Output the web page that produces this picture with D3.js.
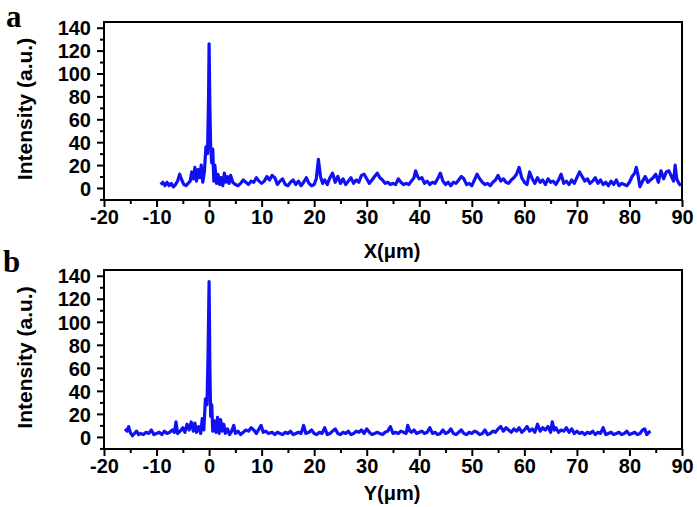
<!DOCTYPE html>
<html>
<head>
<meta charset="utf-8">
<script src="https://cdn.jsdelivr.net/npm/d3@7"></script>
<style>
  body { margin: 0; background: #fff; }
  svg { display: block; }
  .tick text { font-family: "Liberation Sans", Arial, sans-serif; font-weight: bold; font-size: 20px; fill: #000; }
  .lbl { font-family: "Liberation Sans", Arial, sans-serif; font-weight: bold; font-size: 20px; fill: #000; }
  .ylbl { font-family: "Liberation Sans", Arial, sans-serif; font-weight: bold; font-size: 21px; fill: #000; }
  .panel { font-family: "Liberation Serif", "Times New Roman", serif; font-weight: bold; font-size: 31px; fill: #000; }
</style>
</head>
<body>
<div id="chart"></div>
<script>
// profile along X (panel a)
var xA = [-9.2,-8.8,-8.4,-8.0,-7.6,-7.2,-6.8,-6.4,-6.0,-5.6,-5.2,-4.8,-4.4,-4.0,-3.6,-3.3,-3.0,-2.7,-2.4,-2.1,-1.8,-1.5,-1.2,-0.9,-0.6,-0.3,-0.1,0.0,0.15,0.3,0.5,0.7,0.9,1.1,1.4,1.7,2.0,2.3,2.6,2.9,3.2,3.5,3.8,4.1,4.5,5.0,5.5,6.0,6.5,7.0,7.5,8.0,8.5,9.0,9.5,10.0,10.5,11.0,11.5,12.0,12.5,13.0,13.5,14.0,14.5,15.0,15.5,16.0,16.5,17.0,17.5,18.0,18.5,19.0,19.5,20.0,20.4,20.8,21.2,21.6,22.0,22.5,23.0,23.5,24.0,24.5,25.0,25.5,26.0,26.5,27.0,27.5,28.0,28.5,29.0,29.5,30.0,30.5,31.0,31.5,32.0,32.5,33.0,33.5,34.0,34.5,35.0,35.5,36.0,36.5,37.0,37.5,38.0,38.5,39.0,39.3,39.7,40.0,40.5,41.0,41.5,42.0,42.5,43.0,43.5,44.0,44.5,45.0,45.5,46.0,46.5,47.0,47.5,48.0,48.5,49.0,49.5,50.0,50.5,51.0,51.5,52.0,52.5,53.0,53.5,54.0,54.5,55.0,55.5,56.0,56.5,57.0,57.5,58.0,58.5,59.0,59.5,60.0,60.5,61.0,61.5,62.0,62.5,63.0,63.5,64.0,64.5,65.0,65.5,66.0,66.5,67.0,67.5,68.0,68.5,69.0,69.5,70.0,70.5,71.0,71.5,72.0,72.5,73.0,73.5,74.0,74.5,75.0,75.5,76.0,76.5,77.0,77.5,78.0,78.5,79.0,79.5,80.0,80.5,81.0,81.3,81.6,82.0,82.5,83.0,83.5,84.0,84.5,85.0,85.5,86.0,86.5,87.0,87.5,88.0,88.4,88.7,89.0,89.4,89.8];
var intensityA = [3,5,2,5,2,4,1,3,6,12,7,3,2,4,6,14,8,18,6,16,9,20,5,14,36,30,80,126,70,36,22,34,6,20,4,12,3,9,2,13,5,10,4,11,5,3,2,4,7,5,3,6,5,9,6,4,6,10,7,11,9,3,6,8,3,2,5,7,3,6,2,5,9,4,2,3,8,25,10,4,7,3,9,13,5,10,4,8,3,6,9,4,7,5,11,12,8,4,7,10,13,9,7,4,5,3,4,3,8,5,3,4,3,6,9,15,10,8,9,4,6,3,5,4,8,13,6,3,5,2,5,4,7,10,8,3,4,2,7,12,8,5,3,4,2,5,7,11,6,8,5,4,7,9,12,18,9,5,3,14,8,4,9,5,7,3,8,5,6,3,7,12,4,6,3,7,4,9,14,10,6,8,4,6,9,4,7,3,5,2,6,3,7,2,4,3,2,5,10,13,18,12,1,6,10,5,7,9,12,5,15,8,14,15,10,6,20,8,4,2];

// profile along Y (panel b)
var xB = [-16.0,-15.6,-15.3,-15.0,-14.6,-14.2,-13.8,-13.4,-13.0,-12.5,-12.0,-11.5,-11.0,-10.5,-10.0,-9.5,-9.0,-8.5,-8.0,-7.5,-7.0,-6.6,-6.3,-6.0,-5.5,-5.0,-4.6,-4.2,-3.8,-3.4,-3.0,-2.7,-2.4,-2.0,-1.6,-1.3,-1.0,-0.7,-0.4,-0.2,0.0,0.15,0.3,0.5,0.7,1.0,1.3,1.6,1.9,2.2,2.5,2.8,3.1,3.5,3.9,4.3,4.7,5.0,5.5,6.0,6.5,7.0,7.5,8.0,8.5,9.0,9.5,9.9,10.3,10.8,11.3,12.0,12.5,13.0,13.5,14.0,14.5,15.0,15.5,16.0,16.5,17.0,17.5,18.0,18.4,19.0,19.5,20.0,20.5,21.0,21.5,22.0,22.5,23.0,23.5,24.0,24.5,25.0,25.5,26.0,26.5,27.0,27.5,28.0,28.5,29.0,29.5,30.0,30.5,31.0,31.5,32.0,32.5,33.0,33.5,34.0,34.5,35.0,35.5,36.0,36.5,37.0,37.5,37.8,38.2,38.5,39.0,39.5,40.0,40.5,41.0,41.5,42.0,42.5,43.0,43.5,44.0,44.5,45.0,45.5,46.0,46.5,47.0,47.5,48.0,48.5,49.0,49.5,50.0,50.5,51.0,51.5,52.0,52.5,53.0,53.5,54.0,54.5,55.0,55.5,56.0,56.5,57.0,57.5,58.0,58.5,59.0,59.5,60.0,60.5,61.0,61.5,62.0,62.5,63.0,63.5,64.0,64.5,65.0,65.3,65.7,66.0,66.5,67.0,67.5,68.0,68.5,69.0,69.5,70.0,70.5,71.0,71.5,72.0,72.5,73.0,73.5,74.0,74.5,75.0,75.5,76.0,76.5,77.0,77.5,78.0,78.5,79.0,79.5,80.0,80.5,81.0,81.5,82.0,82.5,82.9,83.3,83.7,84.0];
var intensityB = [7,5,9,4,1,3,5,2,3,2,4,3,6,2,3,4,2,5,3,4,6,4,13,3,5,8,4,11,6,13,5,12,4,9,3,16,6,33,28,70,135,60,18,28,5,14,4,17,3,15,5,11,3,7,2,5,10,3,5,2,4,6,5,8,6,3,7,10,4,5,3,4,2,4,3,2,4,3,5,2,3,4,3,10,3,4,6,3,2,4,3,8,2,3,5,7,3,2,4,3,5,2,3,5,4,6,3,7,4,2,3,4,3,2,4,5,9,3,4,3,5,4,3,10,5,4,6,3,4,5,3,4,8,3,4,2,3,6,3,4,7,3,2,4,6,3,2,4,3,5,4,2,3,6,2,3,5,4,7,9,5,8,6,4,7,5,8,4,6,9,5,7,4,11,5,8,6,9,4,13,6,8,4,6,5,8,4,7,3,5,3,4,2,4,3,5,2,4,3,8,2,3,4,2,3,4,2,3,5,2,3,4,2,3,6,7,2,4,5];

var xTicks = [-20,-10,0,10,20,30,40,50,60,70,80,90];
var xMinor = [-15,-5,5,15,25,35,45,55,65,75,85];
var yTicks = [0,20,40,60,80,100,120,140];
var yMinor = [-10,10,30,50,70,90,110,130];

var width = 697, height = 507;
var svg = d3.select("#chart").append("svg").attr("width", width).attr("height", height);

// plain hyphen for negatives, like the original
var fmt = function (d) { return String(d); };

function panel(opts) {
    var x = d3.scaleLinear().domain([-20, 90]).range([104, 682]);
    var y = d3.scaleLinear().domain([-10.5, 145]).range([opts.bottom, opts.top]);
    var g = svg.append("g");

    var data = opts.xs.map(function (d, i) { return { x: d, v: opts.vs[i] }; });

    g.append("path")
        .datum(data)
        .attr("fill", "none")
        .attr("stroke", "#1010f5")
        .attr("stroke-width", 3.2)
        .attr("stroke-linejoin", "round")
        .attr("d", d3.line().x(function (d) { return x(d.x); }).y(function (d) { return y(d.v); }));

    // frame
    g.append("rect")
        .attr("x", x(-20)).attr("y", opts.top)
        .attr("width", x(90) - x(-20)).attr("height", opts.bottom - opts.top)
        .attr("fill", "none").attr("stroke", "#000").attr("stroke-width", 2);

    // minor ticks
    g.append("g").attr("transform", "translate(0," + opts.bottom + ")")
        .call(d3.axisBottom(x).tickValues(xMinor).tickSize(4).tickFormat(""))
        .call(function (s) { s.select(".domain").remove(); s.selectAll("line").attr("stroke-width", 2); });
    g.append("g").attr("transform", "translate(" + x(-20) + ",0)")
        .call(d3.axisLeft(y).tickValues(yMinor).tickSize(4).tickFormat(""))
        .call(function (s) { s.select(".domain").remove(); s.selectAll("line").attr("stroke-width", 2); });

    // major ticks
    var gx = g.append("g").attr("transform", "translate(0," + opts.bottom + ")")
        .call(d3.axisBottom(x).tickValues(xTicks).tickFormat(fmt).tickSize(7).tickPadding(3));
    gx.select(".domain").remove();
    gx.selectAll("line").attr("stroke-width", 2);

    var gy = g.append("g").attr("transform", "translate(" + x(-20) + ",0)")
        .call(d3.axisLeft(y).tickValues(yTicks).tickFormat(fmt).tickSize(7).tickPadding(6));
    gy.select(".domain").remove();
    gy.selectAll("line").attr("stroke-width", 2);
    gy.selectAll("text").attr("dy", "0.36em");

    g.append("text").attr("class", "lbl")
        .attr("x", 392).attr("y", opts.xLabelY)
        .attr("text-anchor", "middle")
        .text(opts.xLabel);

    g.append("text").attr("class", "ylbl")
        .attr("transform", "translate(32," + ((opts.top + opts.bottom) / 2 - 2) + ") rotate(-90)")
        .attr("text-anchor", "middle")
        .text("Intensity (a.u.)");

    g.append("text").attr("class", "panel")
        .attr("x", opts.tagX).attr("y", opts.tagY)
        .text(opts.tag);
}

panel({ xs: xA, vs: intensityA, top: 22, bottom: 200, xLabel: "X(\u03bcm)", xLabelY: 258, tag: "a", tagX: 6, tagY: 27 });
panel({ xs: xB, vs: intensityB, top: 270, bottom: 449, xLabel: "Y(\u03bcm)", xLabelY: 500, tag: "b", tagX: 3, tagY: 272 });
</script>
</body>
</html>
